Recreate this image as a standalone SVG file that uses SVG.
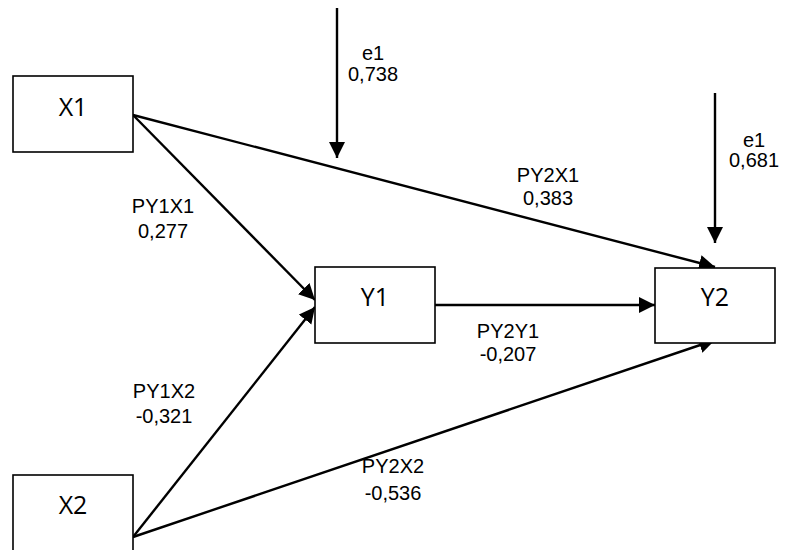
<svg xmlns="http://www.w3.org/2000/svg" width="785" height="550" viewBox="0 0 785 550">
  <style>
    .box { fill: #ffffff; stroke: #000000; stroke-width: 1.6; }
    .node-text { font-family: "Open Sans", "Noto Sans", sans-serif; font-size: 25px; fill: #000000; text-anchor: middle; }
    .edge { stroke: #000000; stroke-width: 2.4; fill: none; marker-end: url(#arrow); }
    .label { font-family: "Liberation Sans", Arial, sans-serif; font-size: 20px; fill: #000000; text-anchor: middle; }
  </style>
  <defs>
    <marker id="arrow" markerUnits="userSpaceOnUse" markerWidth="18" markerHeight="18" refX="16" refY="8" orient="auto">
      <path d="M0,0 L16,8 L0,16 Z" fill="#000000"/>
    </marker>
  </defs>
  <rect width="785" height="550" fill="#ffffff"/>

  <!-- connectors -->
  <g id="connectors">
    <line class="edge" x1="133" y1="115" x2="315" y2="300"/>
    <line class="edge" x1="133" y1="537" x2="315" y2="307"/>
    <line class="edge" x1="133" y1="115" x2="715" y2="267"/>
    <line class="edge" x1="435" y1="305" x2="655" y2="305"/>
    <line class="edge" x1="133" y1="537" x2="715" y2="340"/>
    <line class="edge" x1="337" y1="8" x2="337" y2="158"/>
    <line class="edge" x1="715" y1="93" x2="715" y2="243"/>
  </g>

  <!-- nodes -->
  <g id="X1">
    <rect class="box" x="13" y="76" width="120" height="76"/>
    <text class="node-text" x="73" y="116">X1</text>
  </g>
  <g id="X2">
    <rect class="box" x="13" y="475" width="120" height="80"/>
    <text class="node-text" x="73" y="514">X2</text>
  </g>
  <g id="Y1">
    <rect class="box" x="315" y="267" width="120" height="76"/>
    <text class="node-text" x="375" y="306">Y1</text>
  </g>
  <g id="Y2">
    <rect class="box" x="655" y="268" width="120" height="75"/>
    <text class="node-text" x="715" y="306">Y2</text>
  </g>

  <!-- path coefficients and residuals -->
  <g id="labels">
    <text class="label" x="373" y="60">e1</text>
    <text class="label" x="373" y="81">0,738</text>
    <text class="label" x="754" y="147">e1</text>
    <text class="label" x="754" y="167">0,681</text>
    <text class="label" x="163" y="213">PY1X1</text>
    <text class="label" x="163" y="238">0,277</text>
    <text class="label" x="548" y="182">PY2X1</text>
    <text class="label" x="548" y="205">0,383</text>
    <text class="label" x="508" y="338">PY2Y1</text>
    <text class="label" x="508" y="361">-0,207</text>
    <text class="label" x="164" y="398">PY1X2</text>
    <text class="label" x="164" y="423">-0,321</text>
    <text class="label" x="393" y="473">PY2X2</text>
    <text class="label" x="393" y="500">-0,536</text>
  </g>
</svg>
